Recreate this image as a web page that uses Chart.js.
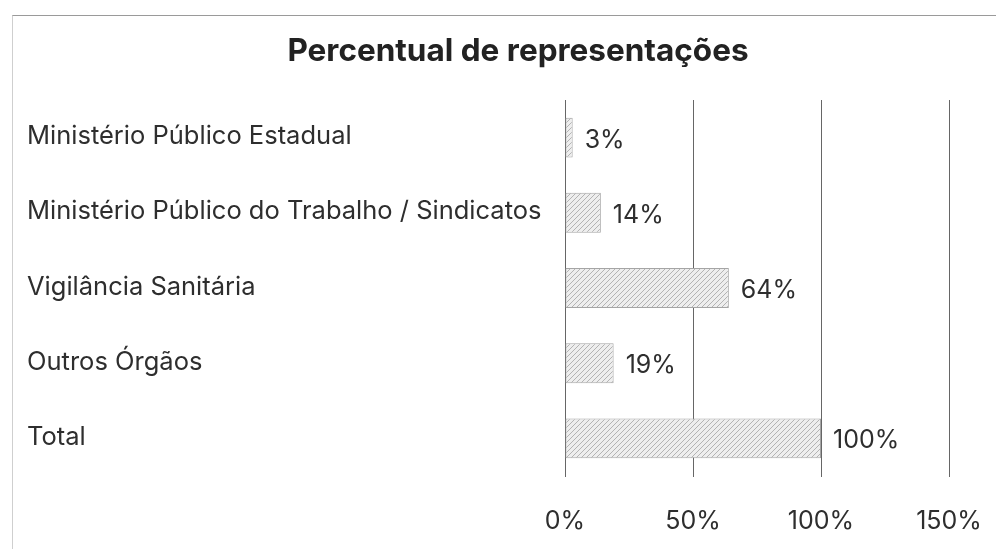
<!DOCTYPE html>
<html>
<head>
<meta charset="utf-8">
<script src="https://cdn.jsdelivr.net/npm/chart.js"></script>
<style>
  html, body { margin: 0; padding: 0; background: #fff; }
  #frame {
    position: absolute; left: 12px; top: 15px; width: 984px; height: 534px;
    border-top: 1px solid #9a9a9a; border-left: 1px solid #cfcfcf;
  }
  #frame canvas { display: block; }
</style>
</head>
<body>
<div id="frame"><canvas id="chart" width="983" height="533"></canvas></div>
<script>
const chartTitle = "Percentual de representações";
const categories = [
  "Ministério Público Estadual",
  "Ministério Público do Trabalho / Sindicatos",
  "Vigilância Sanitária",
  "Outros Órgãos",
  "Total"
];
const percentValues = [3, 14, 64, 19, 100];
const xTicks = [0, 50, 100, 150];

// hatched fill like the printed chart
function hatchPattern() {
  const c = document.createElement("canvas");
  c.width = 5;
  c.height = 5;
  const g = c.getContext("2d");
  g.fillStyle = "#eeeeee";
  g.fillRect(0, 0, 5, 5);
  g.strokeStyle = "#b3b3b3";
  g.lineWidth = 1;
  g.beginPath();
  g.moveTo(0, 5); g.lineTo(5, 0);
  g.moveTo(-2.5, 2.5); g.lineTo(2.5, -2.5);
  g.moveTo(2.5, 7.5); g.lineTo(7.5, 2.5);
  g.stroke();
  return g.createPattern(c, "repeat");
}

// title drawn by hand: the original is not centred on the chart box
const titlePlugin = {
  id: "pageTitle",
  afterDraw(chart) {
    const ctx = chart.ctx;
    ctx.save();
    ctx.font = "bold 31.5px Inter";
    ctx.fillStyle = "#222";
    ctx.textAlign = "center";
    ctx.textBaseline = "middle";
    ctx.fillText(chartTitle, 505, 36);
    ctx.restore();
  }
};

const valueLabels = {
  id: "valueLabels",
  afterDatasetsDraw(chart) {
    const ctx = chart.ctx;
    const meta = chart.getDatasetMeta(0);
    ctx.save();
    ctx.font = "25px Inter";
    ctx.fillStyle = "#2e2e2e";
    ctx.textAlign = "left";
    ctx.textBaseline = "middle";
    meta.data.forEach((bar, i) => {
      ctx.fillText(percentValues[i] + "%", bar.x + 12, bar.y + 2.5);
    });
    ctx.restore();
  }
};

const ctx = document.getElementById("chart").getContext("2d");
new Chart(ctx, {
  type: "bar",
  data: {
    labels: categories,
    datasets: [{
      data: percentValues,
      backgroundColor: hatchPattern(),
      borderColor: "#a5a5a5",
      borderWidth: 1,
      borderSkipped: false,
      barPercentage: 0.53,
      categoryPercentage: 1
    }]
  },
  options: {
    indexAxis: "y",
    responsive: false,
    animation: false,
    layout: { padding: { left: 14, right: 47, top: 84, bottom: 0 } },
    plugins: {
      legend: { display: false },
      tooltip: { enabled: false },
      title: { display: false }
    },
    scales: {
      x: {
        min: 0,
        max: 150,
        afterBuildTicks(scale) {
          scale.ticks = xTicks.map(v => ({ value: v }));
        },
        afterFit(scale) {
          scale.height = 73;
          // let the 150% label hang into the right margin
          scale.paddingLeft = 0;
          scale.paddingRight = 0;
        },
        grid: { color: "#666", lineWidth: 1, drawTicks: true, tickLength: 1, tickColor: "#666" },
        border: { display: false },
        ticks: {
          color: "#2e2e2e",
          font: { family: "Inter", size: 25 },
          padding: 29,
          maxRotation: 0,
          callback: v => v + "%"
        }
      },
      y: {
        afterFit(scale) { scale.width = 538; },
        grid: { display: false },
        border: { display: false },
        ticks: {
          crossAlign: "far",
          color: "#2e2e2e",
          font: { family: "Inter", size: 25.5 },
          labelOffset: -1,
          padding: 10
        }
      }
    }
  },
  plugins: [valueLabels, titlePlugin]
});
</script>
</body>
</html>
